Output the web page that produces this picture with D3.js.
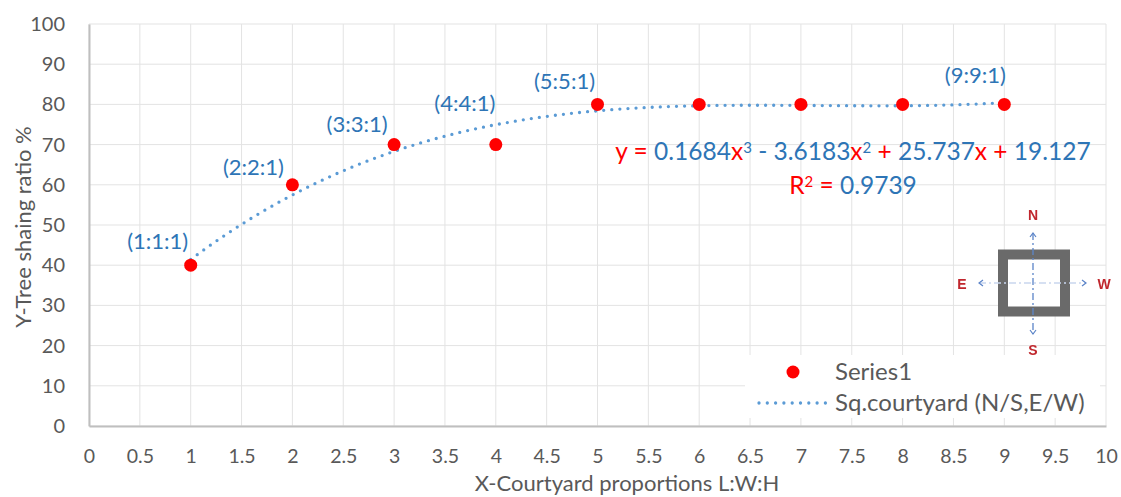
<!DOCTYPE html>
<html>
<head>
<meta charset="utf-8">
<script src="https://cdn.jsdelivr.net/npm/d3@7/dist/d3.min.js"></script>
<style>
  html, body { margin: 0; padding: 0; background: #fff; }
  svg { display: block; font-family: Lato, "Open Sans", sans-serif; }
</style>
</head>
<body>
<svg id="chart" width="1121" height="497"></svg>
<script>
// Courtyard proportion vs. tree shading ratio
const proportions = [1, 2, 3, 4, 5, 6, 7, 8, 9];
const shadingRatio = [40, 60, 70, 70, 80, 80, 80, 80, 80];
const pointLabels = ["(1:1:1)", "(2:2:1)", "(3:3:1)", "(4:4:1)", "(5:5:1)", null, null, null, "(9:9:1)"];
const xTicks = [0, 0.5, 1, 1.5, 2, 2.5, 3, 3.5, 4, 4.5, 5, 5.5, 6, 6.5, 7, 7.5, 8, 8.5, 9, 9.5, 10];
const yTicks = [0, 10, 20, 30, 40, 50, 60, 70, 80, 90, 100];
// cubic trendline coefficients (a x^3 + b x^2 + c x + d)
const trendCoef = [0.1684, -3.6183, 25.737, 19.127];
const rSquared = 0.9739;

const svg = d3.select("#chart");
const plotLeft = 89, plotRight = 1106, plotTop = 24, plotBottom = 426;
const x = d3.scaleLinear().domain([0, 10]).range([plotLeft, plotRight]);
const y = d3.scaleLinear().domain([0, 100]).range([plotBottom, plotTop]);

const grey = "#595959";
const blue = "#2E75B6";
const red = "#FF0000";
const trendBlue = "#5B9BD5";

// gridlines
svg.append("g").selectAll("line").data(xTicks).join("line")
  .attr("x1", d => x(d)).attr("x2", d => x(d))
  .attr("y1", plotTop).attr("y2", plotBottom)
  .attr("stroke", "#e3e3e3").attr("stroke-width", 1);
svg.append("g").selectAll("line").data(yTicks).join("line")
  .attr("x1", plotLeft).attr("x2", plotRight)
  .attr("y1", d => y(d)).attr("y2", d => y(d))
  .attr("stroke", "#e3e3e3").attr("stroke-width", 1);

// axes
const xAxis = d3.axisBottom(x).tickValues(xTicks).tickSize(0).tickPadding(23)
  .tickFormat(d => String(d));
const gx = svg.append("g").attr("transform", `translate(0,${plotBottom})`).call(xAxis);
gx.select(".domain").attr("stroke", "#bfbfbf").attr("stroke-width", 2);
gx.selectAll("text").attr("fill", grey).attr("font-size", 19.5).attr("font-family", "Lato, sans-serif");

const yAxis = d3.axisLeft(y).tickValues(yTicks).tickSize(0).tickPadding(24);
const gy = svg.append("g").attr("transform", `translate(${plotLeft},0)`).call(yAxis);
gy.select(".domain").attr("stroke", "#bfbfbf").attr("stroke-width", 2);
gy.selectAll("text").attr("fill", grey).attr("font-size", 20).attr("font-family", "Lato, sans-serif");

// axis titles
svg.append("text").attr("x", 627).attr("y", 491)
  .attr("text-anchor", "middle").attr("fill", grey).attr("font-size", 22)
  .text("X-Courtyard proportions L:W:H");
svg.append("text").attr("transform", `translate(31,227) rotate(-90)`)
  .attr("text-anchor", "middle").attr("fill", grey).attr("font-size", 22)
  .text("Y-Tree shaing ratio %");

// trendline
const poly = t => ((trendCoef[0] * t + trendCoef[1]) * t + trendCoef[2]) * t + trendCoef[3];
const trendPts = d3.range(1, 9.001, 0.05).map(t => [t, poly(t)]);
svg.append("path").datum(trendPts)
  .attr("d", d3.line().x(d => x(d[0])).y(d => y(d[1])))
  .attr("fill", "none").attr("stroke", trendBlue).attr("stroke-width", 3.3)
  .attr("stroke-linecap", "round").attr("stroke-dasharray", "0 8.1");

// points
svg.append("g").selectAll("circle").data(proportions).join("circle")
  .attr("cx", d => x(d)).attr("cy", (d, i) => y(shadingRatio[i]))
  .attr("r", 6.5).attr("fill", red);

// point labels (offset up-left of each marker)
const labelOffset = { 0: [-33, -24], 1: [-39, -18], 2: [-37, -20], 3: [-31, -41], 4: [-33, -23], 8: [-29, -29] };
svg.append("g").selectAll("text")
  .data(proportions.map((d, i) => ({ d, i, label: pointLabels[i] })).filter(o => o.label))
  .join("text")
  .attr("x", o => x(o.d) + labelOffset[o.i][0])
  .attr("y", o => y(shadingRatio[o.i]) + labelOffset[o.i][1])
  .attr("dy", "0.35em")
  .attr("text-anchor", "middle").attr("fill", blue).attr("font-size", 22)
  .text(o => o.label);

// trendline equation
const fmt = v => String(Math.abs(v));
const eq = svg.append("text").attr("x", 853).attr("y", 160)
  .attr("text-anchor", "middle").attr("font-size", 24.5);
const eqParts = [
  ["y = ", red], [fmt(trendCoef[0]), blue], ["x", red], ["3", blue, true],
  [" - " + fmt(trendCoef[1]), blue], ["x", red], ["2", blue, true],
  [" + ", red], [fmt(trendCoef[2]), blue], ["x", red], [" + ", red], [fmt(trendCoef[3]), blue]
];
eqParts.forEach(([t, c, sup]) => {
  const s = eq.append("tspan").attr("fill", c).text(t);
  if (sup) s.attr("font-size", 15).attr("baseline-shift", "45%");
});
const r2 = svg.append("text").attr("x", 853).attr("y", 194)
  .attr("text-anchor", "middle").attr("font-size", 24.5);
r2.append("tspan").attr("fill", red).text("R");
r2.append("tspan").attr("fill", red).attr("font-size", 15).attr("baseline-shift", "45%").text("2");
r2.append("tspan").attr("fill", red).text(" = ");
r2.append("tspan").attr("fill", blue).text(String(rSquared));

// orientation sketch
const defs = svg.append("defs");
defs.append("filter").attr("id", "soft").append("feGaussianBlur").attr("stdDeviation", 0.6);
const icon = svg.append("g").attr("filter", "url(#soft)");
icon.append("rect").attr("x", 1003).attr("y", 254.5).attr("width", 62).attr("height", 57)
  .attr("fill", "#fff").attr("stroke", "#6b6b6b").attr("stroke-width", 10);
icon.append("line").attr("x1", 1033).attr("x2", 1033).attr("y1", 233).attr("y2", 334)
  .attr("stroke", "#5b84c8").attr("stroke-width", 1.3).attr("stroke-dasharray", "7 3 2 3");
icon.append("line").attr("x1", 979).attr("x2", 1086).attr("y1", 283).attr("y2", 283)
  .attr("stroke", "#c9d6ee").attr("stroke-width", 1.3).attr("stroke-dasharray", "7 3 2 3");
const arrowHeads = [
  [[1030, 237], [1033, 233], [1036, 237]],
  [[1030, 330], [1033, 334], [1036, 330]],
  [[983, 280], [979, 283], [983, 286]],
  [[1082, 280], [1086, 283], [1082, 286]]
];
icon.selectAll("path.ah").data(arrowHeads).join("path")
  .attr("d", d3.line()).attr("fill", "none").attr("stroke", "#5b84c8").attr("stroke-width", 1.2);
const compass = [["N", 1033, 215], ["S", 1033, 350], ["E", 962, 284], ["W", 1104, 284]];
icon.selectAll("text").data(compass).join("text")
  .attr("x", d => d[1]).attr("y", d => d[2]).attr("dy", "0.35em")
  .attr("text-anchor", "middle").attr("font-size", 14).attr("font-weight", "bold")
  .attr("font-family", "'Liberation Sans', Arial, sans-serif")
  .attr("fill", "#c0282d").text(d => d[0]);

// legend
const lg = svg.append("g");
lg.append("rect").attr("x", 745).attr("y", 355).attr("width", 355).attr("height", 63)
  .attr("fill", "#fff");
lg.append("circle").attr("cx", 793).attr("cy", 372).attr("r", 6.5).attr("fill", red);
lg.append("text").attr("x", 835).attr("y", 372).attr("dy", "0.35em")
  .attr("fill", grey).attr("font-size", 24).text("Series1");
lg.append("line").attr("x1", 759).attr("x2", 827).attr("y1", 403).attr("y2", 403)
  .attr("stroke", trendBlue).attr("stroke-width", 3.3).attr("stroke-linecap", "round")
  .attr("stroke-dasharray", "0 8.3");
lg.append("text").attr("x", 835).attr("y", 403).attr("dy", "0.35em")
  .attr("fill", grey).attr("font-size", 24).text("Sq.courtyard (N/S,E/W)");
</script>
</body>
</html>
